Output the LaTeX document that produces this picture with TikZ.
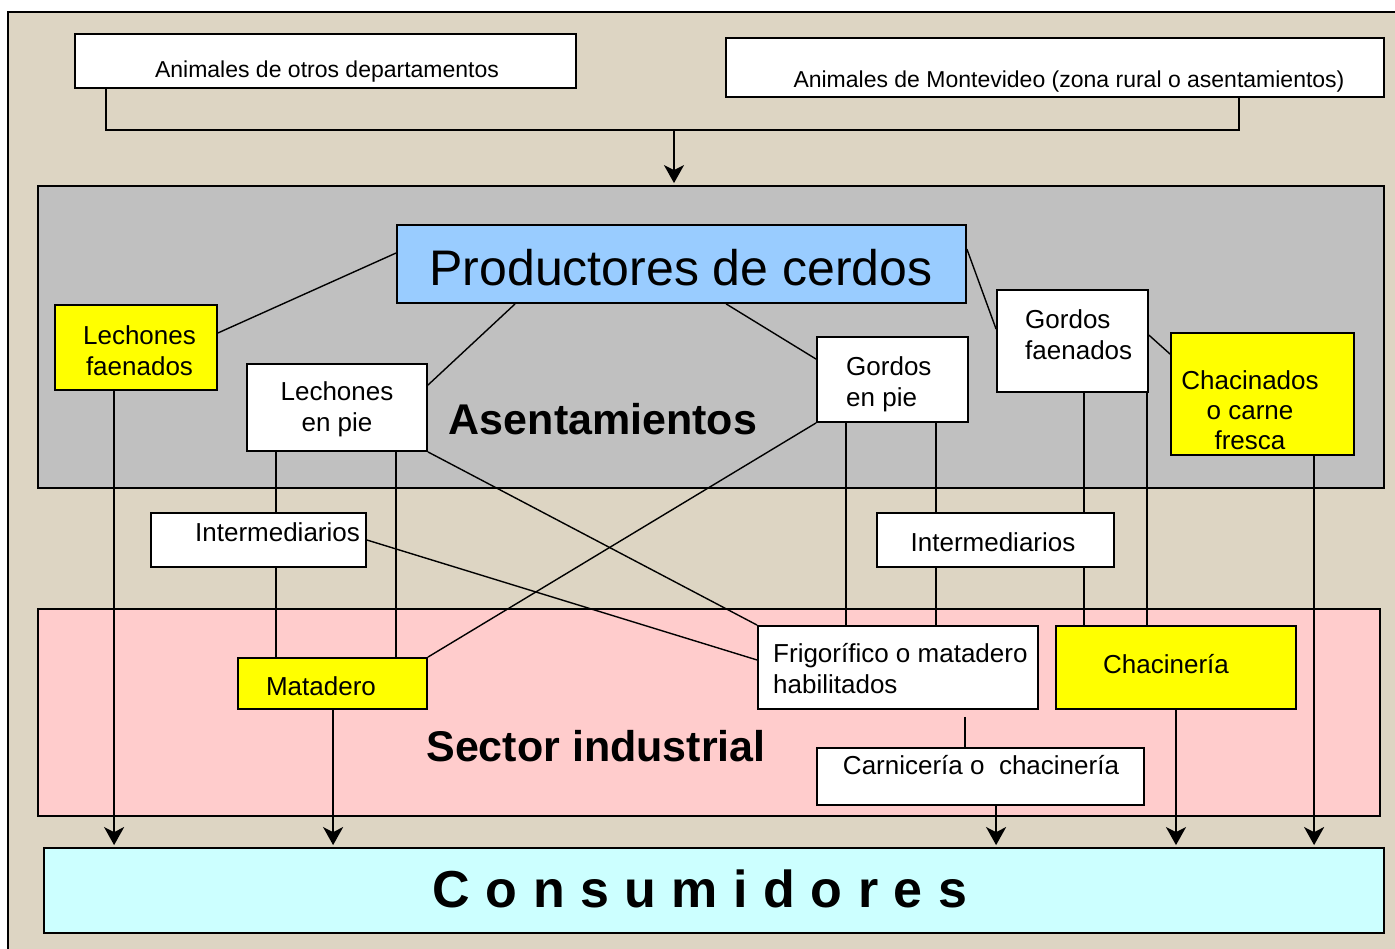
\documentclass[tikz,border=0pt]{standalone}
\usepackage{fontspec}
\setmainfont{Liberation Sans}
\usetikzlibrary{calc,arrows.meta}
\pgfdeclarelayer{back}
\pgfdeclarelayer{mid}
\pgfsetlayers{back,mid,main}
\definecolor{beigebg}{RGB}{221,213,195}
\definecolor{graybg}{RGB}{192,192,192}
\definecolor{pinkbg}{RGB}{255,204,204}
\definecolor{cyanbg}{RGB}{204,255,255}
\definecolor{bluebox}{RGB}{153,204,255}
\definecolor{yellowbox}{RGB}{255,255,0}
\begin{document}
\begin{tikzpicture}[x=1pt,y=-1pt,
  box/.style={draw=black,line width=1.8pt,inner sep=0pt},
  txt/.style={font=\fontsize{26}{31}\selectfont,inner sep=0pt},
  smalltxt/.style={font=\fontsize{23}{27}\selectfont,inner sep=0pt},
  bigtxt/.style={font=\bfseries\fontsize{43}{50}\selectfont,inner sep=0pt},
  conn/.style={line width=1.8pt},
  diag/.style={line width=1.4pt},
  arr/.style={conn,-{Stealth[length=18pt,width=20pt,inset=5pt]},shorten >=2pt},
  region/.style={draw=black,line width=1.8pt,inner sep=0pt}]
\useasboundingbox (0,0) rectangle (1395,949);
\clip (0,0) rectangle (1395,949);

% background
\begin{pgfonlayer}{back}
\fill[white] (0,0) rectangle (1395,949);
\draw[line width=1.8pt,fill=beigebg] (8,12) rectangle (1420,980);
\node[region,fill=graybg,minimum width=1346pt,minimum height=302pt] (G) at (711,337) {};
\node[region,fill=pinkbg,minimum width=1342pt,minimum height=207pt] (P) at (709,712.5) {};
\end{pgfonlayer}

% boxes
\node[box,fill=white,minimum width=501pt,minimum height=54pt] (A) at (325.5,61) {};
\node[smalltxt] (At) at (327,72) {Animales de otros departamentos};
\node[box,fill=white,minimum width=658pt,minimum height=59pt] (B) at (1055,67.5) {};
\node[smalltxt] (Bt) at (1069,82) {Animales de Montevideo (zona rural o asentamientos)};

\node[box,fill=bluebox,minimum width=569pt,minimum height=78pt] (Prod) at (681.5,264) {};
\node[inner sep=0pt,font=\fontsize{50}{56}\selectfont] (Prodt) at (681,268) {Productores de cerdos};

\node[box,fill=yellowbox,minimum width=162pt,minimum height=85pt] (LF) at (136,347.5) {};
\node[txt,align=center] (LFt) at (139.5,351) {Lechones\\faenados};

\node[box,fill=white,minimum width=180pt,minimum height=87pt] (LP) at (337,407.5) {};
\node[txt,align=center] (LPt) at (337,409) {Lechones\\en pie};

\node[box,fill=white,minimum width=151pt,minimum height=85pt] (GP) at (892.5,379.5) {};
\node[txt,align=left,anchor=west] (GPt) at (846,384) {Gordos\\en pie};

\node[box,fill=white,minimum width=151pt,minimum height=102pt] (GF) at (1072.5,341) {};
\node[txt,align=left,anchor=west] (GFt) at (1025,335) {Gordos\\faenados};

\node[box,fill=yellowbox,minimum width=183pt,minimum height=122pt] (CH) at (1262.5,394) {};
\node[txt,align=center,font=\fontsize{26}{30}\selectfont] (CHt) at (1250,410) {Chacinados\\o carne\\fresca};

\node[bigtxt] (Ast) at (603,419) {Asentamientos};

\node[box,fill=white,minimum width=215pt,minimum height=54pt] (IL) at (258.5,540) {};
\node[txt] (ILt) at (277.5,532) {Intermediarios};
\node[box,fill=white,minimum width=237pt,minimum height=54pt] (IR) at (995.5,540) {};
\node[txt] (IRt) at (993,542) {Intermediarios};

\node[box,fill=yellowbox,minimum width=189pt,minimum height=51pt] (MAT) at (332.5,683.5) {};
\node[txt] (MATt) at (321,686) {Matadero};

\node[box,fill=white,minimum width=280pt,minimum height=83pt] (FRI) at (898,667.5) {};
\node[txt,align=left,anchor=west] (FRIt) at (773,669) {Frigorífico o matadero\\habilitados};

\node[box,fill=yellowbox,minimum width=240pt,minimum height=83pt] (CHR) at (1176,667.5) {};
\node[txt] (CHRt) at (1166,664) {Chacinería};

\node[box,fill=white,minimum width=327pt,minimum height=57pt] (CAR) at (980.5,776.5) {};
\node[txt] (CARt) at (981,765) {Carnicería o \ chacinería};

\node[bigtxt] (Sit) at (596,746) {Sector industrial};

\node[box,fill=cyanbg,minimum width=1340pt,minimum height=85pt] (CON) at (714,890.5) {};
\node[inner sep=0pt,font=\bfseries\fontsize{52}{60}\selectfont] (CONt) at (700,889)
  {C\hspace{15.5pt}o\hspace{15.5pt}n\hspace{15.5pt}s\hspace{15.5pt}u\hspace{15.5pt}m\hspace{15.5pt}i\hspace{15.5pt}d\hspace{15.5pt}o\hspace{15.5pt}r\hspace{15.5pt}e\hspace{15.5pt}s};

% connectors
\begin{pgfonlayer}{mid}
\coordinate (a1) at ($(A.south west)+(32,0)$);
\coordinate (b1) at ($(B.south west)+(514,0)$);
\coordinate (j) at (674,130);
\draw[conn] (a1) -- (a1 |- j) -- (b1 |- j) -- (b1);
\draw[arr] (j) -- (j |- G.north);

\draw[diag] ($(Prod.west)+(0,-11)$) -- ($(LF.east)+(0,-14.5)$);
\draw[diag] ($(Prod.south west)+(119,0)$) -- ($(LP.north east)+(0,22)$);
\draw[diag] ($(Prod.south west)+(330,0)$) -- ($(GP.north west)+(0,23)$);
\draw[diag] ($(Prod.north east)+(0,25)$) -- ($(GF.north west)+(0,40)$);
\draw[diag] ($(GF.north east)+(0,46)$) -- ($(CH.north west)+(0,22)$);

\coordinate (lf1) at ($(LF.south west)+(60,0)$);
\draw[arr] (lf1) -- (lf1 |- CON.north);

\coordinate (lp1) at ($(LP.south west)+(30,0)$);
\draw[conn] (lp1) -- (lp1 |- MAT.north);
\coordinate (lp2) at ($(LP.south west)+(150,0)$);
\draw[conn] (lp2) -- (lp2 |- MAT.north);
\draw[diag] (LP.south east) -- (FRI.north west);
\draw[diag] (IL.east) -- ($(FRI.west)+(0,-7.5)$);
\draw[diag] (GP.south west) -- (MAT.north east);

\coordinate (gp1) at ($(GP.south west)+(30,0)$);
\draw[conn] (gp1) -- (gp1 |- FRI.north);
\coordinate (gp2) at ($(GP.south west)+(120,0)$);
\draw[conn] (gp2) -- (gp2 |- FRI.north);

\coordinate (gf1) at ($(GF.south west)+(88,0)$);
\draw[conn] (gf1) -- (gf1 |- CHR.north);
\coordinate (gf2) at ($(GF.south east)+(-2,0)$);
\draw[conn] (gf2) -- (gf2 |- CHR.north);

\coordinate (ch1) at ($(CH.south west)+(144,0)$);
\draw[arr] (ch1) -- (ch1 |- CON.north);

\coordinate (m1) at ($(MAT.south west)+(96,0)$);
\draw[arr] (m1) -- (m1 |- CON.north);

\coordinate (f1) at ($(FRI.south west)+(208,7)$);
\draw[conn] (f1) -- (f1 |- CAR.north);

\coordinate (c1) at ($(CAR.south west)+(180,0)$);
\draw[arr] (c1) -- (c1 |- CON.north);

\draw[arr] (CHR.south) -- (CHR.south |- CON.north);
\end{pgfonlayer}
\end{tikzpicture}
\end{document}
